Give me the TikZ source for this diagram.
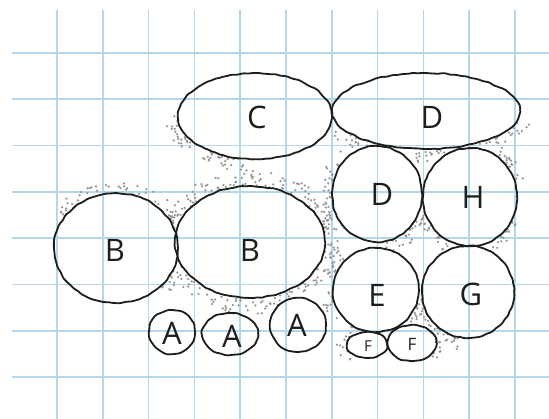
\documentclass[tikz,border=0pt]{standalone}
\usepackage{fontspec}
\setmainfont{Open Sans}
\usetikzlibrary{shapes.geometric,decorations.pathmorphing}
\definecolor{gridc}{RGB}{178,216,234}
\definecolor{inkc}{RGB}{30,30,30}
\definecolor{dotc}{RGB}{150,150,150}
\begin{document}
\begin{tikzpicture}[x=1pt,y=-1pt,
  blob/.style={draw=inkc, line width=1.8pt, ellipse, inner sep=0pt,
    decorate, decoration={random steps, segment length=4pt, amplitude=0.7pt},
    rounded corners=1.5pt},
  lbl/.style={inner sep=0pt, text=inkc, font=\fontsize{31}{31}\selectfont},
  smalllbl/.style={inner sep=0pt, text=inkc, font=\fontsize{17}{17}\selectfont},
  gridline/.style={gridc, line width=1.6pt}]
\useasboundingbox (0,0) rectangle (549,419);
\fill[white] (0,0) rectangle (549,419);
% grid
\foreach \k in {0,...,10} \draw[gridline] ({57+45.8*\k},10) -- ({57+45.8*\k},419);
\foreach \k in {0,...,7} \draw[gridline] (12,{53+46.3*\k}) -- (549,{53+46.3*\k});
% stippling outside the shapes
\begin{scope}[even odd rule]
\clip (0,0) rectangle (549,419)
  (255,116) ellipse [x radius=77, y radius=43]
  (426,111) ellipse [x radius=94, y radius=38]
  (377,194) ellipse [x radius=45, y radius=48]
  (470,197) ellipse [x radius=47, y radius=49]
  (116,248) ellipse [x radius=62, y radius=55]
  (250,242) ellipse [x radius=75, y radius=56]
  (376,290) ellipse [x radius=43, y radius=42]
  (468,292) ellipse [x radius=46, y radius=46]
  (172,332) ellipse [x radius=23, y radius=22]
  (230,334) ellipse [x radius=28, y radius=21]
  (298,325) ellipse [x radius=28, y radius=27]
  (367,345) ellipse [x radius=20, y radius=13]
  (412,343) ellipse [x radius=24, y radius=18];
\pgfmathsetseed{11}
\foreach \cx/\cy/\rx/\ry/\ta/\tb/\w/\n in {
    255/116/77/43/95/185/14/50,
    250/242/75/56/195/330/16/80,
    116/248/62/55/215/330/13/40,
    250/242/75/56/180/215/14/18,
    116/248/62/55/300/350/12/18,
    250/242/75/56/120/175/14/26,
    116/248/62/55/20/50/10/14,
    250/242/75/56/60/120/16/45,
    250/242/75/56/-40/60/14/55,
    426/111/94/38/110/175/14/32,
    426/111/94/38/15/60/14/28,
    426/111/94/38/75/100/14/18,
    377/194/45/48/130/235/12/36,
    377/194/45/48/20/80/14/28,
    470/197/47/49/100/160/14/28,
    470/197/47/49/-60/-15/10/18,
    470/197/47/49/25/65/10/18,
    376/290/43/42/140/230/12/28,
    367/345/20/13/130/250/10/18,
    468/292/46/46/100/180/12/32,
    412/343/24/18/-40/40/10/14,
    376/290/43/42/20/80/10/18} {
  \foreach \i in {1,...,\n} {
    \pgfmathsetmacro\t{\ta+rnd*(\tb-\ta)}
    \pgfmathsetmacro\d{rnd*\w}
    \fill[dotc] ({\cx+(\rx+\d)*cos(\t)},{\cy+(\ry+\d)*sin(\t)}) circle (1.25);
  }
}
\end{scope}
% shapes
\node[blob, minimum width=154pt, minimum height=86pt] (sC) at (255,116) {};
\node[blob, minimum width=188pt, minimum height=76pt] (sDt) at (426,111) {};
\node[blob, minimum width=90pt, minimum height=96pt] (sDm) at (377,194) {};
\node[blob, minimum width=94pt, minimum height=98pt] (sH) at (470,197) {};
\node[blob, minimum width=124pt, minimum height=110pt] (sB1) at (116,248) {};
\node[blob, minimum width=150pt, minimum height=112pt] (sB2) at (250,242) {};
\node[blob, minimum width=86pt, minimum height=84pt] (sE) at (376,290) {};
\node[blob, minimum width=92pt, minimum height=92pt] (sG) at (468,292) {};
\node[blob, minimum width=46pt, minimum height=44pt] (sA1) at (172,332) {};
\node[blob, minimum width=56pt, minimum height=42pt] (sA2) at (230,334) {};
\node[blob, minimum width=56pt, minimum height=54pt] (sA3) at (298,325) {};
\node[blob, minimum width=40pt, minimum height=26pt] (sF1) at (367,345) {};
\node[blob, minimum width=48pt, minimum height=36pt] (sF2) at (412,343) {};
% labels
\node[lbl] (tC) at (257,117) {C};
\node[lbl] (tDt) at (432,117) {D};
\node[lbl] (tDm) at (382,194) {D};
\node[lbl] (tH) at (473,197) {H};
\node[lbl] (tB1) at (115,250) {B};
\node[lbl] (tB2) at (250,250) {B};
\node[lbl] (tE) at (377,295) {E};
\node[lbl] (tG) at (471,294) {G};
\node[lbl] (tA1) at (172,333) {A};
\node[lbl] (tA2) at (232,336) {A};
\node[lbl] (tA3) at (297,325) {A};
\node[smalllbl, font=\fontsize{15}{15}\selectfont] (tF1) at (368,346) {F};
\node[smalllbl] (tF2) at (412,344) {F};
\end{tikzpicture}
\end{document}
